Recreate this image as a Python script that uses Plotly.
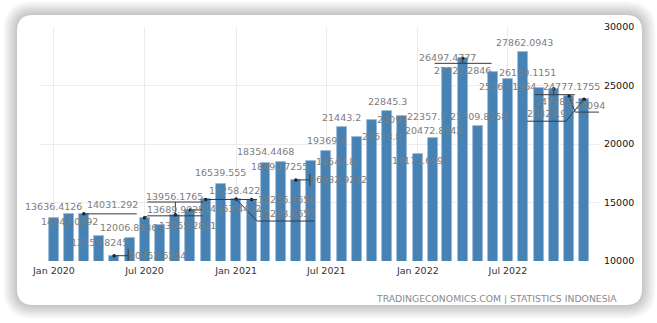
import pandas as pd
import plotly.graph_objects as go

# Monthly exports, USD million
months = pd.date_range("2020-01-01", periods=36, freq="MS")
exports = [
    13636.4126, 14042.0892, 14031.292, 12159.8245, 10452.6254, 12006.8136,
    13689.9025, 13055.2811, 13956.1765, 14363.4432, 15258.422, 16539.555,
    15293.6657, 15256.1658, 18354.4468, 18490.7255, 16932.9242, 18547.8,
    19369.6, 21443.2, 20618.8, 22091, 22845.3, 22357.7,
    19173.699, 20472.8942, 26497.4777, 27322.2846, 21509.8258, 26150.1151,
    25563.1964, 27862.0943, 24777.1755, 24728.2, 24094, 23827.9,
]
x_ticks = ["2020-01-01", "2020-07-01", "2021-01-01", "2021-07-01", "2022-01-01", "2022-07-01"]
x_tick_text = ["Jan 2020", "Jul 2020", "Jan 2021", "Jul 2021", "Jan 2022", "Jul 2022"]
source_text = "TRADINGECONOMICS.COM | STATISTICS INDONESIA"

# ---- layout geometry (pixels) ----
W, H = 657, 323
L, R, T, B = 39, 58, 27, 62
PW, PH = W - L - R, H - T - B

FONT = "DejaVu Sans"
BAR = "#4682b4"
LABEL_GREY = "#7d7d7d"
LEADER = "#3a3a3a"

# label placement: offset of each label centre from its bar top (screen px, +y down)
label_offsets = [
    (0, -11.5), (0, 7.3), (29, -9.5), (0.7, 6.3), (43, -0.7), (-0.7, -10.5),
    (31, -8), (28, 0.7), (-0.5, -18.7), (42, -1), (29, -8.5), (0, -11.5),
    (50, 14), (35, -0.5), (0, -11.3), (-1, 5.3), (43, 0), (24, 1),
    (0.7, -10.4), (0, -10), (24, 0), (20, -0.5), (0.5, -9.7), (24.5, -0.4),
    (0, 7.3), (0.7, -7.5), (0.7, -10), (0, 11.7), (1.4, -10.3), (35, 0),
    (0, 8), (1.6, -10), (33, -2), (1, 13), (21, 9), (-38, 14),
]
# leader lines for displaced labels (screen px from bar top, +y down)
leaders = {
    2: [[(0, 0), (53, 0)]],
    4: [[(0, 0), (14, 0)], [(14, -7), (14, 6)]],
    6: [[(0, 0), (3, -2), (58, -2)]],
    8: [[(-28, -12.7), (28, -12.7)], [(0, -12.7), (0, 0)]],
    9: [[(0, 0), (12, 0)]],
    10: [[(0, 0), (51, 0)]],
    12: [[(0, 0), (21, 22), (78, 22)]],
    13: [[(0, 0), (5, 0)]],
    16: [[(0, 0), (14, 0)], [(14, -6), (14, 6)]],
    27: [[(0, 0), (0, 5)], [(-28, 5), (29, 5)]],
    33: [[(0, 0), (0, 6)], [(-19, 6), (21, 6)]],
    34: [[(0, 0), (6, 16), (38, 16)]],
    35: [[(0, 0), (-18, 22), (-57, 22)]],
}


def px_x(px):
    return (px - L) / PW


def px_y(py):
    return (T + PH - py) / PH


def rounded_rect(x0, y0, x1, y1, r):
    pts = [
        ("M", (x0 + r, y0)), ("L", (x1 - r, y0)), ("Q", (x1, y0), (x1, y0 + r)),
        ("L", (x1, y1 - r)), ("Q", (x1, y1), (x1 - r, y1)),
        ("L", (x0 + r, y1)), ("Q", (x0, y1), (x0, y1 - r)),
        ("L", (x0, y0 + r)), ("Q", (x0, y0), (x0 + r, y0)),
    ]
    out = []
    for cmd, *ps in pts:
        out.append(cmd + " " + " ".join(f"{px_x(a):.5f},{px_y(b):.5f}" for a, b in ps))
    return " ".join(out) + " Z"


fig = go.Figure()

fig.add_trace(go.Bar(
    x=months, y=exports,
    width=20 * 86400000,
    marker=dict(color=BAR, line=dict(color="#9dbad6", width=0.8)),
    hoverinfo="skip",
))

lead_idx = sorted(leaders)
fig.add_trace(go.Scatter(
    x=[months[i] for i in lead_idx], y=[exports[i] for i in lead_idx],
    mode="markers", marker=dict(size=3.5, color="#1a1a1a"),
    hoverinfo="skip", cliponaxis=False,
))

shapes = []
# card shadow and card
card = (17, 15, 642, 305)
for k in range(14, 0, -1):
    shapes.append(dict(
        type="path", xref="paper", yref="paper", layer="below",
        path=rounded_rect(card[0] - k, card[1] - k, card[2] + k, card[3] + k, 16 + k),
        fillcolor="rgba(0,0,0,0.017)", line=dict(width=0),
    ))
shapes.append(dict(
    type="path", xref="paper", yref="paper", layer="below",
    path=rounded_rect(*card, 16), fillcolor="white", line=dict(width=0),
))

for i, polys in leaders.items():
    for poly in polys:
        path = " ".join(
            ("M" if j == 0 else "L") + f" {dx},{-dy}" for j, (dx, dy) in enumerate(poly)
        )
        shapes.append(dict(
            type="path", xref="x", yref="y",
            xsizemode="pixel", ysizemode="pixel",
            xanchor=months[i], yanchor=exports[i],
            path=path, line=dict(color=LEADER, width=1),
        ))

annotations = []
for i, (d, v) in enumerate(zip(months, exports)):
    dx, dy = label_offsets[i]
    annotations.append(dict(
        x=d, y=v, xref="x", yref="y", text=f"{v:.10g}", showarrow=False,
        xshift=dx, yshift=-dy, font=dict(family=FONT, size=9.5, color=LABEL_GREY),
    ))
annotations.append(dict(
    x=px_x(619), y=px_y(298), xref="paper", yref="paper", text=source_text,
    showarrow=False, xanchor="right", yanchor="middle",
    font=dict(family=FONT, size=9.3, color="#8a8a8a"),
))

fig.update_layout(
    width=W, height=H,
    margin=dict(l=L, r=R, t=T, b=B),
    paper_bgcolor="white", plot_bgcolor="rgba(0,0,0,0)",
    showlegend=False, bargap=0,
    shapes=shapes, annotations=annotations,
    xaxis=dict(
        type="date", range=["2019-12-02", "2022-12-31"],
        tickvals=x_ticks, ticktext=x_tick_text,
        showgrid=True, gridcolor="#ececec", gridwidth=1,
        zeroline=False, showline=False, ticks="", ticklabelstandoff=2,
        tickfont=dict(family=FONT, size=9.5, color="#333333"),
    ),
    yaxis=dict(
        side="right", range=[10000, 30000], dtick=5000, tickformat="d",
        showgrid=True, gridcolor="#ececec", gridwidth=1,
        zeroline=False, showline=False, ticks="", ticklabelstandoff=4,
        tickfont=dict(family=FONT, size=9.5, color="#111111"),
    ),
)

fig.write_html("out.html")
